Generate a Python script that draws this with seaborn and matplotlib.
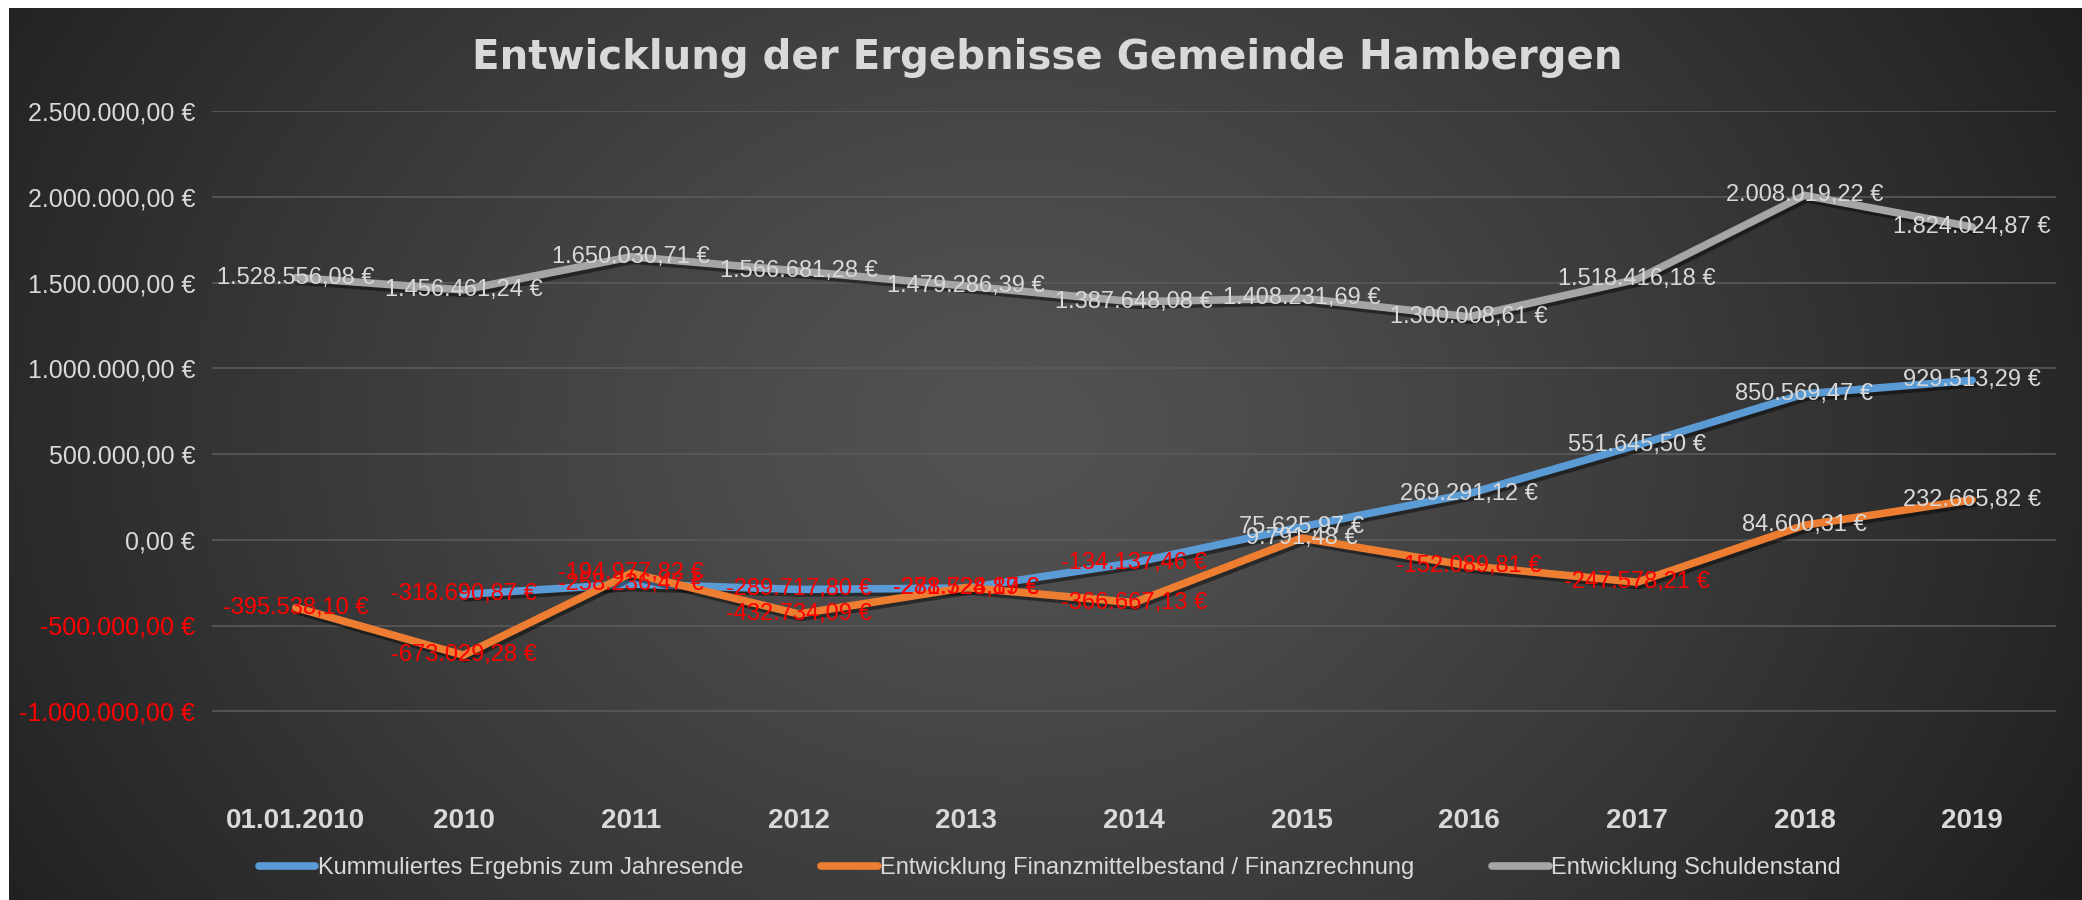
import numpy as np
import pandas as pd
import matplotlib
matplotlib.use("Agg")
import matplotlib.pyplot as plt
import matplotlib.patheffects as pe
from matplotlib.lines import Line2D
import seaborn as sns

# ---------------- data ----------------
categories = ["01.01.2010", "2010", "2011", "2012", "2013", "2014",
              "2015", "2016", "2017", "2018", "2019"]
ergebnis = [np.nan, -318690.87, -258236.47, -289717.80, -281728.89, -134137.46,
            75625.97, 269291.12, 551645.50, 850569.47, 929513.29]
finanzmittel = [-395538.10, -673029.28, -194977.82, -432734.09, -278524.17, -366667.13,
                9791.48, -152089.81, -247578.21, 84600.31, 232665.82]
schulden = [1528556.08, 1456461.24, 1650030.71, 1566681.28, 1479286.39, 1387648.08,
            1408231.69, 1300008.61, 1518416.18, 2008019.22, 1824024.87]
series_names = ["Kummuliertes Ergebnis zum Jahresende",
                "Entwicklung Finanzmittelbestand / Finanzrechnung",
                "Entwicklung Schuldenstand"]
series_colors = ["#5B9BD5", "#ED7D31", "#A5A5A5"]
yticks = [-1000000, -500000, 0, 500000, 1000000, 1500000, 2000000, 2500000]
title = "Entwicklung der Ergebnisse Gemeinde Hambergen"

# ---------------- style ----------------
plt.rcParams['font.family'] = ['Liberation Sans', 'DejaVu Sans']
TXT = "#d9d9d9"
NEG = "#ff0000"


def euro(v):
    s = f"{v:,.2f}"
    s = s.replace(",", "X").replace(".", ",").replace("X", ".")
    return s + " €"


W, H = 2082, 900
fig = plt.figure(figsize=(W / 100, H / 100), dpi=100)

# background gradient panel
bg = fig.add_axes([0, 0, 1, 1], zorder=-10)
yy, xx = np.mgrid[0:H, 0:W]
r = np.sqrt(((xx - 1010) / 1150.0) ** 2 + ((yy - 430) / 900.0) ** 2)
v = 0x53 - (0x53 - 0x22) * np.clip(r, 0, 1.1) ** 1.25
img = np.dstack([v, v, v]) / 255.0
img[:8, :, :] = 1.0
img[:, :9, :] = 1.0
bg.imshow(img, extent=[0, W, H, 0], aspect='auto', interpolation='bilinear')
bg.set_xlim(0, W)
bg.set_ylim(H, 0)
bg.axis('off')

left, right, top, bottom = 212, 2056, 111, 797
ax = fig.add_axes([left / W, 1 - bottom / H, (right - left) / W, (bottom - top) / H], zorder=1)
ax.set_facecolor('none')

pos = list(range(len(categories)))
df = pd.DataFrame({
    'pos': pos * 3,
    'value': ergebnis + finanzmittel + schulden,
    'series': [series_names[0]] * len(pos) + [series_names[1]] * len(pos) + [series_names[2]] * len(pos),
}).dropna()

sns.lineplot(data=df, x='pos', y='value', hue='series', hue_order=series_names,
             palette=series_colors, linewidth=5.5, legend=False, ax=ax,
             estimator=None, sort=True)
for ln in ax.lines:
    ln.set_solid_joinstyle('round')
    ln.set_solid_capstyle('round')
    ln.set_path_effects([pe.SimpleLineShadow(offset=(1.5, -2.5), shadow_color='black', alpha=0.45),
                         pe.Normal()])

ax.set_xlim(-0.5, len(categories) - 0.5)
ax.set_ylim(-1500000, 2500000)
ax.set_yticks(yticks)
ax.set_yticklabels([euro(t) for t in yticks], fontsize=18)
for lab, t in zip(ax.get_yticklabels(), yticks):
    lab.set_color(NEG if t < 0 else TXT)
ax.set_xticks(pos)
ax.set_xticklabels(categories, fontsize=20, fontweight='bold', color=TXT)
ax.tick_params(axis='both', length=0)
ax.tick_params(axis='y', pad=12)
ax.tick_params(axis='x', pad=8)
ax.set_xlabel('')
ax.set_ylabel('')
for s in ax.spines.values():
    s.set_visible(False)
ax.yaxis.grid(True, color='#5a5a5a', linewidth=1.2)
ax.xaxis.grid(False)
ax.set_axisbelow(True)

# data labels
for vals in (ergebnis, finanzmittel, schulden):
    for x, val in zip(pos, vals):
        if np.isnan(val):
            continue
        ax.text(x, val, euro(val), ha='center', va='center', fontsize=17,
                color=NEG if val < 0 else TXT, zorder=6, clip_on=False)

# title
fig.text(1047 / W, 1 - 58 / H, title, ha='center', va='center', fontsize=29,
         fontweight='bold', color=TXT, family=['DejaVu Sans'])

# legend
handles = [Line2D([0], [0], color=c, lw=5.5, solid_capstyle='round') for c in series_colors]
fig.legend(handles, series_names, loc='center', bbox_to_anchor=(1050 / W, 1 - 868 / H),
           ncol=3, frameon=False, fontsize=17, labelcolor=TXT, handlelength=2.4,
           handletextpad=0.1, columnspacing=3.3)

fig.savefig("out.png", dpi=100)
